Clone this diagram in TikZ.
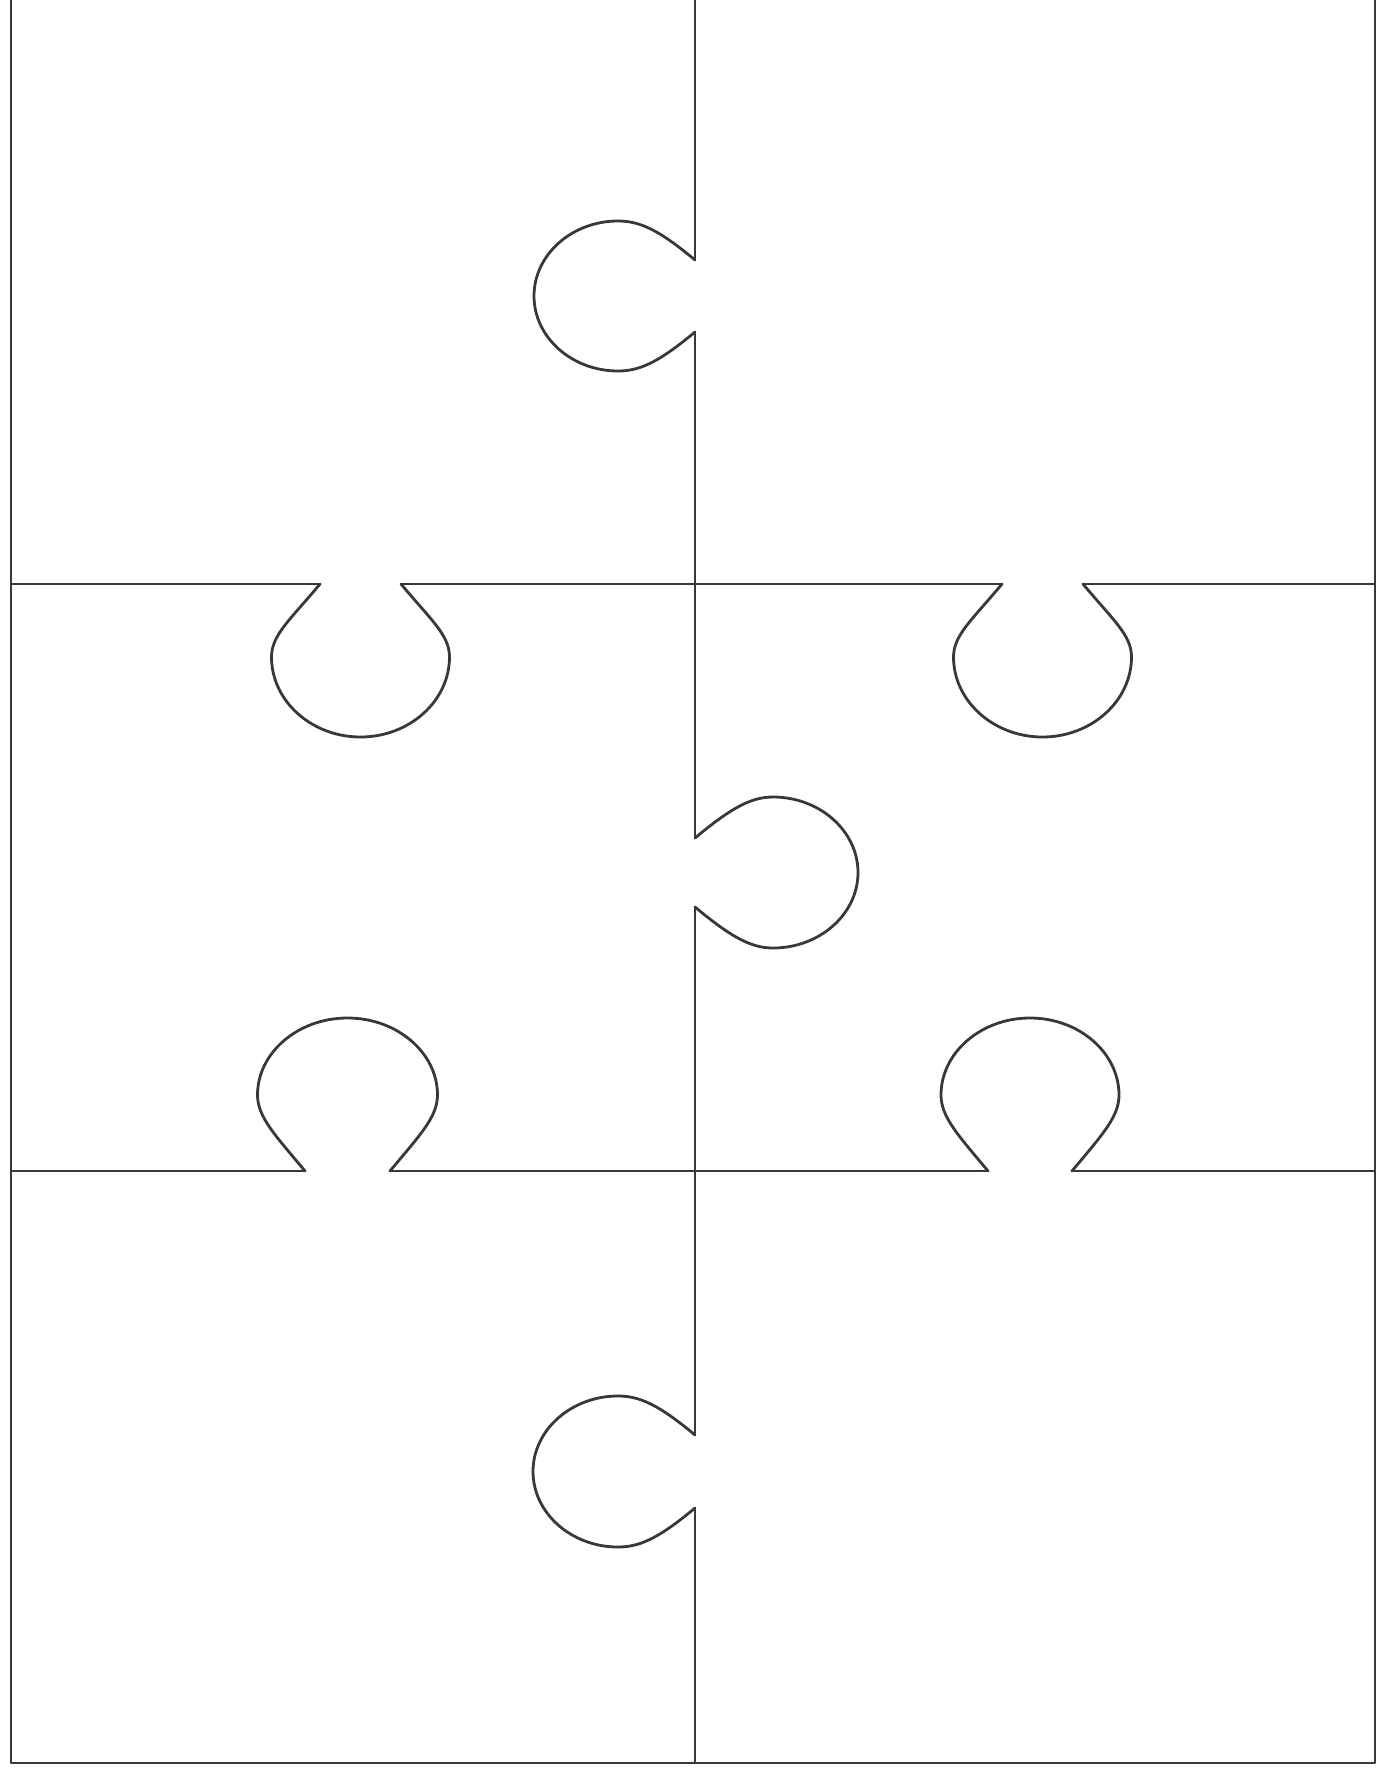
\documentclass[tikz,border=0pt]{standalone}
\tikzset{pz/.style={draw=black!78, line width=2.8pt, line join=round, line cap=round}}
% #1,#2 neck centre; #3 transform; #4 neck half width; #5 half width; #6 depth of widest point; #7 depth of tip
\newcommand\pzknob[7]{%
  \begin{scope}[shift={(#1,#2)},#3]
    \draw[pz] ({-#4},0) .. controls ({-#4-30},36) and ({-#5},{#6-22}) .. ({-#5},#6)
      .. controls ({-#5},{#6+0.55*(#7-#6)}) and ({-0.55*#5},#7) .. (0,#7)
      .. controls ({0.55*#5},#7) and (#5,{#6+0.55*(#7-#6)}) .. (#5,#6)
      .. controls (#5,{#6-22}) and ({#4+30},36) .. (#4,0);
  \end{scope}}
\begin{document}
\begin{tikzpicture}[x=1pt,y=-1pt]
\useasboundingbox (0,0) rectangle (1377,1773);
% outer frame (open at the top)
\draw[pz] (11,0) -- (11,1763) -- (1375,1763) -- (1375,0);
% middle vertical cut
\draw[pz] (695,0) -- (695,260);
\draw[pz] (695,332) -- (695,838);
\draw[pz] (695,907) -- (695,1435);
\draw[pz] (695,1508) -- (695,1763);
% horizontal cuts
\draw[pz] (11,584) -- (320,584);
\draw[pz] (401,584) -- (1002,584);
\draw[pz] (1083,584) -- (1375,584);
\draw[pz] (11,1171) -- (305,1171);
\draw[pz] (390,1171) -- (988,1171);
\draw[pz] (1072,1171) -- (1375,1171);
% knobs on the vertical cut
\pzknob{695}{296}{rotate=-90}{36}{75}{77}{161}
\pzknob{695}{872.5}{rotate=90}{34.5}{75.5}{78}{163}
\pzknob{695}{1471.5}{rotate=-90}{36.5}{75.5}{77}{162}
% knobs on the upper horizontal cut (pointing down)
\pzknob{360.5}{584}{}{40.5}{89}{73}{153}
\pzknob{1042.5}{584}{}{40.5}{89}{73}{153}
% knobs on the lower horizontal cut (pointing up)
\pzknob{347.5}{1171}{yscale=-1}{42.5}{90}{76}{153}
\pzknob{1030}{1171}{yscale=-1}{42}{89}{76}{153}
\end{tikzpicture}
\end{document}
